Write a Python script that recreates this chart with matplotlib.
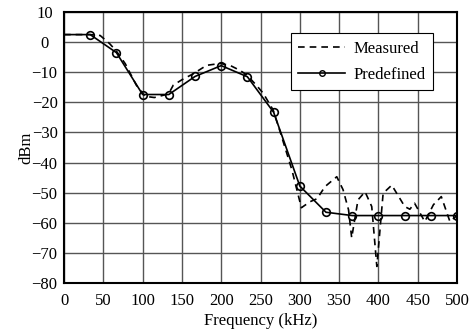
import numpy as np
import matplotlib
matplotlib.use('Agg')
import matplotlib.pyplot as plt

plt.rcParams['font.family'] = ['Liberation Serif', 'DejaVu Serif']

# predefined response (markers every 33.3 kHz)
pre_f = [0, 33.3, 66.7, 100, 133.3, 166.7, 200, 233.3, 266.7, 300, 333.3, 366.7, 400, 433.3, 466.7, 500]
pre_db = [2.5, 2.5, -3.5, -17.4, -17.4, -11.4, -7.8, -11.5, -23.3, -47.8, -56.5, -57.6, -57.6, -57.6, -57.6, -57.6]

# measured response
meas_f = [0, 33.3, 46, 58, 66.7, 78, 92, 103, 115, 133, 139, 150, 164.5, 181.5, 198.5, 211, 224, 233,
          245, 253.5, 266, 275, 290, 302, 313, 322, 332, 347, 355, 362, 366, 374, 383, 391.5, 398,
          406, 417, 433.5, 440, 446, 459, 470, 480, 491, 500]
meas_db = [2.5, 2.5, 2.2, -0.5, -3.0, -7.2, -14.3, -18.0, -18.4, -17.2, -14.3, -12.5, -10.5, -7.7, -7.1, -7.7, -9.4, -11.0,
           -14.4, -17.0, -22.5, -29.8, -42.5, -55.0, -53.0, -52.0, -48.0, -44.7, -49.0, -55.7, -65.0, -52.4, -49.7, -54.6, -74.5,
           -50.2, -47.5, -54.6, -55.5, -53.5, -59.6, -54.0, -51.3, -59.6, -57.6]

xticks = [0, 50, 100, 150, 200, 250, 300, 350, 400, 450, 500]
yticks = [10, 0, -10, -20, -30, -40, -50, -60, -70, -80]

fig = plt.figure(figsize=(4.71, 3.30), dpi=100)
ax = fig.add_axes([0.1359, 0.1424, 0.8344, 0.8212])

ax.plot(meas_f, meas_db, color='black', linestyle=(0, (4, 3)), linewidth=1.2)
ax.plot(pre_f, pre_db, color='black', linewidth=1.2)
ax.plot(pre_f[1:], pre_db[1:], linestyle='none', marker='o', markersize=5.5, markerfacecolor='none',
        markeredgecolor='black', markeredgewidth=1.2)
# legend handles
h_meas, = ax.plot([], [], color='black', linestyle=(0, (4, 3)), linewidth=1.2)
h_pre, = ax.plot([], [], color='black', linewidth=1.2, marker='o', markersize=4,
                 markerfacecolor='none', markeredgewidth=1.0)

ax.set_xlim(0, 500)
ax.set_ylim(-80, 10)
ax.set_xticks(xticks)
ax.set_yticks(yticks)
ax.grid(True, color='#555555', linewidth=1.0)
ax.set_axisbelow(True)
ax.tick_params(axis='x', length=0, labelsize=12, pad=7)
ax.tick_params(axis='y', length=0, labelsize=12, pad=14)
for lab in ax.get_yticklabels():
    lab.set_horizontalalignment('center')
for s in ax.spines.values():
    s.set_linewidth(1.5)

ax.set_xlabel('Frequency (kHz)', fontsize=12, labelpad=3)
ax.set_ylabel('dBm', fontsize=12, labelpad=-2)

leg = ax.legend([h_meas, h_pre], ['Measured', 'Predefined'], loc='upper right',
                bbox_to_anchor=(0.939, 0.9225), borderaxespad=0, fontsize=12, fancybox=False,
                framealpha=1, edgecolor='black', handlelength=2.8, borderpad=0.45,
                labelspacing=0.6, handletextpad=0.5)
leg.get_frame().set_linewidth(0.8)

plt.savefig('out.png', dpi=100)
plt.close()
